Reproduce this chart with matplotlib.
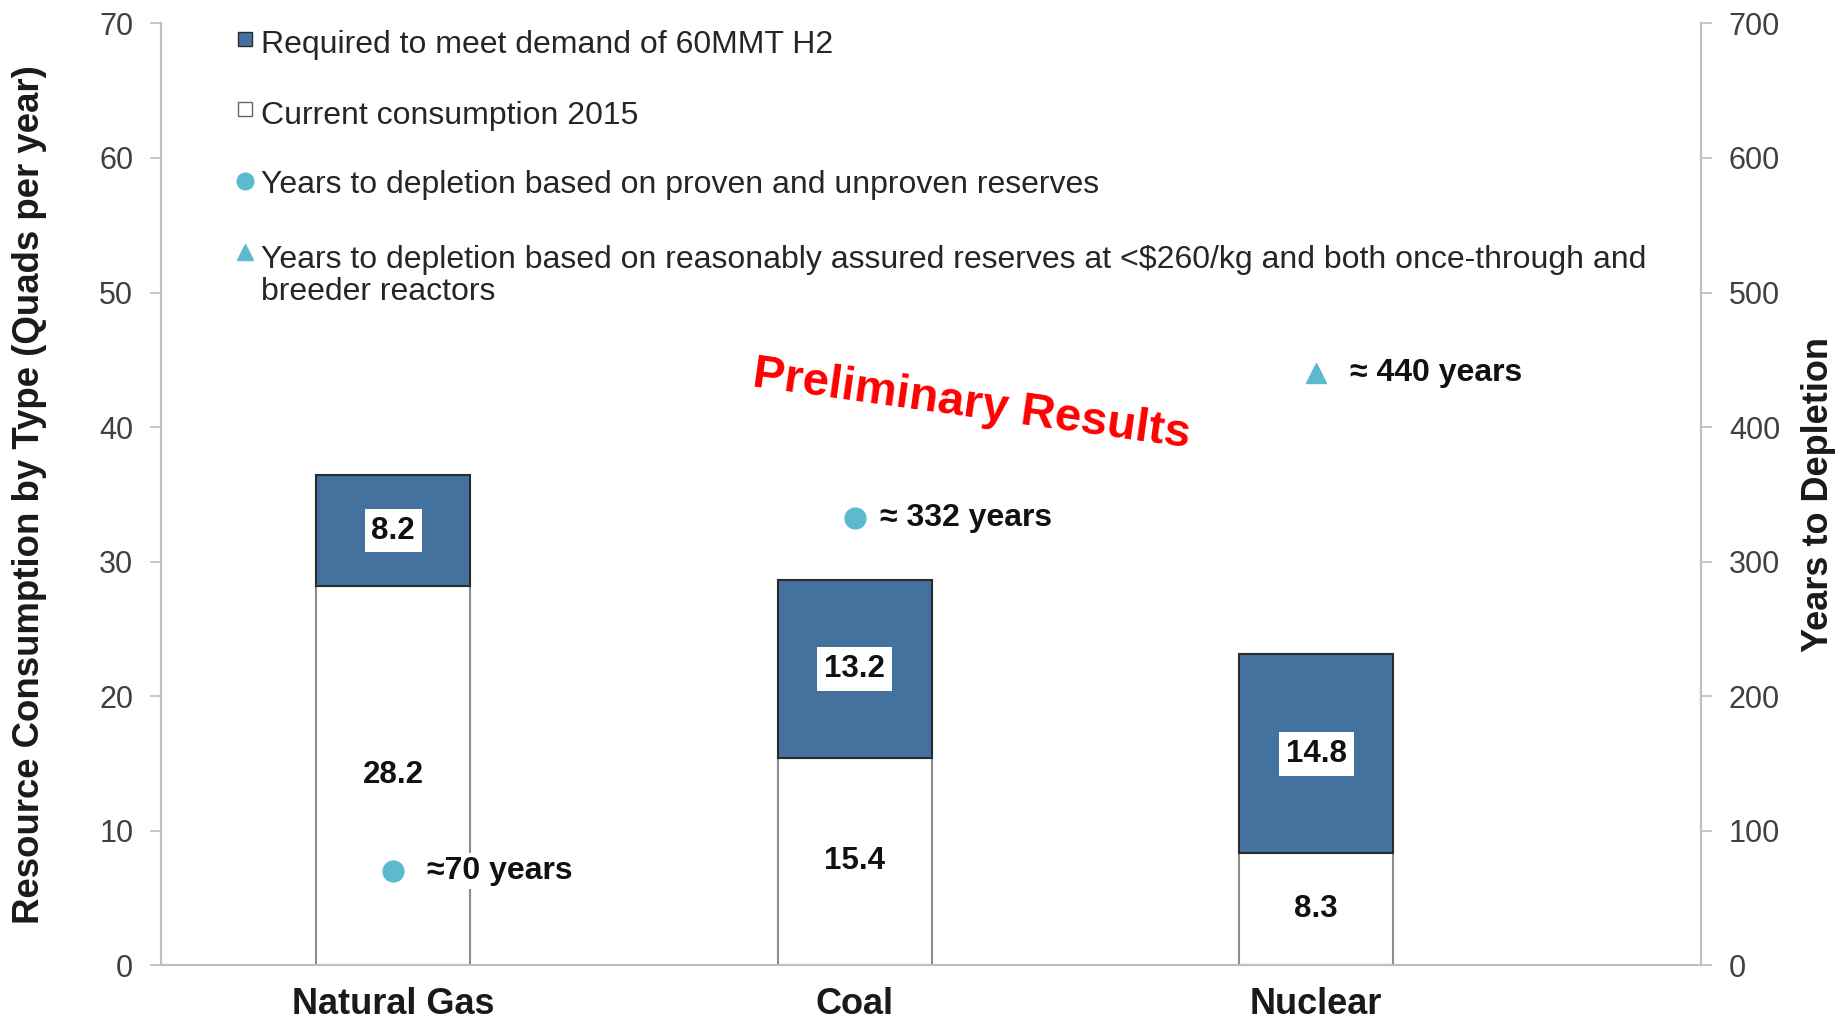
import numpy as np
import matplotlib
matplotlib.use('Agg')
import matplotlib.pyplot as plt

plt.rcParams['font.family'] = ['Liberation Sans', 'DejaVu Sans']

# values
categories = ['Natural Gas', 'Coal', 'Nuclear']
current_2015 = [28.2, 15.4, 8.3]
required_h2 = [8.2, 13.2, 14.8]
years_to_depletion = [70, 332, 440]
depletion_markers = ['o', 'o', '^']
depletion_labels = ['\u224870 years', '\u2248 332 years', '\u2248 440 years']
left_ticks = list(range(0, 71, 10))
right_ticks = list(range(0, 701, 100))
legend_labels = [
    'Required to meet demand of 60MMT H2',
    'Current consumption 2015',
    'Years to depletion based on proven and unproven reserves',
    'Years to depletion based on reasonably assured reserves at <$260/kg and both once-through and\nbreeder reactors',
]

bar_blue = '#44729f'
dot_cyan = '#5bbad0'
axis_gray = '#bfbfbf'

fig = plt.figure(figsize=(18.43, 10.21), dpi=100)
ax = fig.add_axes([0.0874, 0.0548, 0.8356, 0.9222])

x = np.arange(len(categories))
width = 0.334
ax.bar(x, current_2015, width=width, color='white', edgecolor='#8c8c8c', linewidth=1.5, zorder=2)
ax.bar(x, required_h2, bottom=current_2015, width=width, color=bar_blue,
       edgecolor='#2b2b2b', linewidth=1.5, zorder=2)

for i in range(len(categories)):
    ax.text(x[i], current_2015[i] / 2, f'{current_2015[i]:.1f}', ha='center', va='center',
            fontsize=22.5, fontweight='bold', color='#111111', zorder=3)
    ax.text(x[i], current_2015[i] + required_h2[i] / 2, f'{required_h2[i]:.1f}', ha='center',
            va='center', fontsize=22.5, fontweight='bold', color='#111111', zorder=3,
            bbox=dict(boxstyle='square,pad=0.22', facecolor='white', edgecolor='none'))

ax.set_xlim(-0.503, 2.834)
ax.set_ylim(0, 70)
ax.set_yticks(left_ticks)
ax.set_xticks(x)
ax.set_xticklabels(categories, fontsize=26, fontweight='bold', color='#1a1a1a')
ax.tick_params(axis='x', length=0, pad=16)
ax.tick_params(axis='y', length=8, width=1.2, color=axis_gray, labelsize=22,
               labelcolor='#404040', pad=12)
ax.set_ylabel('Resource Consumption by Type (Quads per year)', fontsize=26.4,
              fontweight='bold', color='#1a1a1a')
ax.yaxis.set_label_coords(-0.074, 0.5)

ax2 = ax.twinx()
ax2.set_ylim(0, 700)
ax2.set_yticks(right_ticks)
ax2.tick_params(axis='y', length=8, width=1.2, color=axis_gray, labelsize=22,
                labelcolor='#404040', pad=12)
ax2.set_ylabel('Years to Depletion', fontsize=26, fontweight='bold', color='#1a1a1a')
ax2.yaxis.set_label_coords(1.065, 0.5)

text_offsets = [24, 18, 24]
for i in range(len(categories)):
    ax2.plot(x[i], years_to_depletion[i], marker=depletion_markers[i], color=dot_cyan,
             markersize=15, linestyle='none', zorder=4)
    ax2.annotate(depletion_labels[i], (x[i], years_to_depletion[i]),
                 xytext=(text_offsets[i], 0), textcoords='offset points',
                 ha='left', va='center', fontsize=23, fontweight='bold', color='#111111',
                 bbox=dict(boxstyle='square,pad=0.1', facecolor='white', edgecolor='none'))

for a in (ax, ax2):
    a.spines['top'].set_visible(False)
    for s in ('left', 'right', 'bottom'):
        a.spines[s].set_color(axis_gray)
        a.spines[s].set_linewidth(1.5)

# legend drawn by hand so the entries sit like the original
legend_y = [0.977, 0.902, 0.828, 0.732]
marker_y = [0.984, 0.909, 0.833, 0.757]
legend_handles = [
    dict(marker='s', color=bar_blue, markeredgecolor='#2b2b2b', markersize=10),
    dict(marker='s', color='white', markeredgecolor='#666666', markersize=10),
    dict(marker='o', color=dot_cyan, markeredgecolor=dot_cyan, markersize=12),
    dict(marker='^', color=dot_cyan, markeredgecolor=dot_cyan, markersize=12),
]
for label, ty, my, h in zip(legend_labels, legend_y, marker_y, legend_handles):
    ax.plot([0.0542], [my], transform=ax.transAxes, linestyle='none', clip_on=False, **h)
    ax.text(0.065, ty, label, transform=ax.transAxes, ha='left', va='center',
            fontsize=23, color='#262626', linespacing=1.1)

ax.text(0.526, 0.595, 'Preliminary Results', transform=ax.transAxes, rotation=-8,
        rotation_mode='anchor', ha='center', va='center', fontsize=34,
        fontweight='bold', color='#ff0000')

fig.savefig('out.png', dpi=100)
